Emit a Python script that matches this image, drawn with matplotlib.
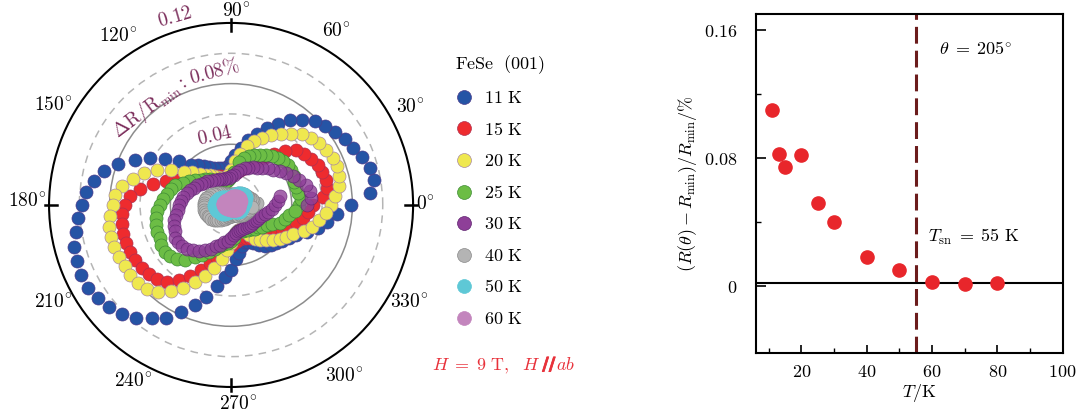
import numpy as np
import matplotlib
matplotlib.use("Agg")
import matplotlib.pyplot as plt
import matplotlib.patheffects as pe
from matplotlib.lines import Line2D

plt.rcParams['mathtext.fontset'] = 'cm'
plt.rcParams['font.family'] = ['DejaVu Serif']

# ---------------- data: polar plot (angle in degrees, dR/Rmin in %) ----------------
angles_deg = np.arange(0, 360, 5)

labels_T = ['11 K', '15 K', '20 K', '25 K', '30 K', '40 K', '50 K', '60 K']
colors_T = ['#2554a5', '#ee2b2e', '#efe84f', '#6cbd45', '#8e3f98', '#b4b4b4', '#5ec8d6', '#c385bd']
edges_T = ['#4b3c8c', '#b0304f', '#a98aa0', '#3f8c35', '#5e2270', '#8a8a8a', '#5ec8d6', '#c385bd']

r_11K = [0.079, 0.092, 0.096, 0.095, 0.092, 0.089, 0.087, 0.084, 0.081, 0.078, 0.073, 0.068,
         0.062, 0.056, 0.050, 0.044, 0.038, 0.033, 0.029, 0.026, 0.025, 0.025, 0.026, 0.027,
         0.029, 0.031, 0.034, 0.037, 0.045, 0.053, 0.062, 0.070, 0.079, 0.087, 0.092, 0.096,
         0.098, 0.101, 0.104, 0.107, 0.108, 0.109, 0.109, 0.107, 0.105, 0.102, 0.097, 0.091,
         0.086, 0.078, 0.070, 0.063, 0.054, 0.048, 0.043, 0.036, 0.032, 0.028, 0.026, 0.027,
         0.029, 0.032, 0.035, 0.037, 0.039, 0.041, 0.044, 0.047, 0.053, 0.059, 0.064, 0.070]
r_15K = [0.054, 0.061, 0.064, 0.0645, 0.064, 0.063, 0.061, 0.059, 0.056, 0.050, 0.044, 0.038,
         0.033, 0.029, 0.026, 0.024, 0.022, 0.021, 0.020, 0.019, 0.019, 0.019, 0.020, 0.021,
         0.022, 0.023, 0.025, 0.027, 0.029, 0.031, 0.034, 0.039, 0.046, 0.053, 0.061, 0.067,
         0.070, 0.072, 0.073, 0.074, 0.074, 0.0735, 0.073, 0.072, 0.071, 0.069, 0.066, 0.060,
         0.054, 0.047, 0.041, 0.036, 0.032, 0.029, 0.027, 0.025, 0.024, 0.023, 0.023, 0.024,
         0.025, 0.026, 0.027, 0.028, 0.029, 0.032, 0.035, 0.037, 0.040, 0.044, 0.048, 0.051]
r_20K = [0.066, 0.069, 0.072, 0.074, 0.0745, 0.074, 0.0725, 0.071, 0.069, 0.066, 0.061, 0.057,
         0.053, 0.049, 0.045, 0.040, 0.034, 0.029, 0.023, 0.020, 0.018, 0.018, 0.019, 0.020,
         0.022, 0.024, 0.026, 0.029, 0.034, 0.038, 0.046, 0.054, 0.061, 0.067, 0.073, 0.0765,
         0.078, 0.080, 0.082, 0.082, 0.082, 0.0815, 0.081, 0.081, 0.0805, 0.078, 0.075, 0.069,
         0.063, 0.056, 0.050, 0.043, 0.036, 0.030, 0.025, 0.021, 0.018, 0.017, 0.017, 0.019,
         0.023, 0.027, 0.030, 0.033, 0.036, 0.039, 0.042, 0.045, 0.051, 0.055, 0.059, 0.0625]
r_25K = [0.045, 0.046, 0.0445, 0.0445, 0.0445, 0.0455, 0.0455, 0.0455, 0.045, 0.044, 0.042, 0.040,
         0.038, 0.036, 0.034, 0.032, 0.029, 0.022, 0.019, 0.017, 0.016, 0.016, 0.017, 0.018,
         0.019, 0.020, 0.022, 0.024, 0.026, 0.029, 0.032, 0.035, 0.039, 0.041, 0.043, 0.045,
         0.047, 0.049, 0.050, 0.051, 0.052, 0.052, 0.053, 0.0535, 0.0525, 0.050, 0.047, 0.042,
         0.038, 0.034, 0.031, 0.028, 0.026, 0.025, 0.024, 0.022, 0.019, 0.018, 0.018, 0.019,
         0.019, 0.020, 0.021, 0.022, 0.023, 0.025, 0.027, 0.030, 0.034, 0.037, 0.039, 0.042]
r_30K = [0.050, 0.053, 0.053, 0.051, 0.048, 0.045, 0.042, 0.039, 0.036, 0.034, 0.032, 0.030,
         0.029, 0.027, 0.026, 0.024, 0.022, 0.020, 0.019, 0.018, 0.018, 0.018, 0.0185, 0.019,
         0.019, 0.020, 0.021, 0.022, 0.023, 0.024, 0.026, 0.027, 0.029, 0.030, 0.032, 0.033,
         0.034, 0.035, 0.037, 0.039, 0.040, 0.041, 0.043, 0.043, 0.042, 0.041, 0.039, 0.037,
         0.034, 0.032, 0.029, 0.027, 0.025, 0.024, 0.022, 0.020, 0.019, 0.018, 0.0175, 0.0175,
         0.0175, 0.018, 0.018, 0.0185, 0.019, 0.019, 0.020, 0.020, 0.021, 0.023, 0.025, 0.027]
# end of the 30 K sweep runs past 360 deg
tail30_angles = [360, 365, 370]
tail30_r = [0.029, 0.031, 0.033]
r_40K = [0.015, 0.017, 0.015, 0.014, 0.013, 0.012, 0.012, 0.011, 0.011, 0.010, 0.010, 0.009,
         0.009, 0.008, 0.008, 0.0075, 0.007, 0.007, 0.007, 0.007, 0.007, 0.007, 0.0075, 0.008,
         0.0085, 0.009, 0.010, 0.011, 0.012, 0.013, 0.014, 0.015, 0.016, 0.017, 0.0175, 0.018,
         0.018, 0.018, 0.018, 0.018, 0.0175, 0.017, 0.0165, 0.016, 0.015, 0.014, 0.013, 0.012,
         0.011, 0.010, 0.009, 0.0085, 0.008, 0.0075, 0.007, 0.007, 0.007, 0.007, 0.007, 0.0075,
         0.008, 0.0085, 0.009, 0.0095, 0.010, 0.0105, 0.011, 0.0115, 0.012, 0.0125, 0.013, 0.014]
r_50K = [0.008, 0.0085, 0.009, 0.0095, 0.010, 0.0105, 0.011, 0.011, 0.011, 0.0105, 0.010, 0.0095,
         0.009, 0.008, 0.0075, 0.007, 0.0065, 0.006, 0.0055, 0.005, 0.005, 0.005, 0.005, 0.0055,
         0.006, 0.0065, 0.007, 0.0075, 0.008, 0.0085, 0.009, 0.0095, 0.010, 0.010, 0.0105, 0.0105,
         0.011, 0.011, 0.011, 0.0105, 0.0105, 0.010, 0.0095, 0.009, 0.0085, 0.008, 0.0075, 0.007,
         0.0065, 0.006, 0.0055, 0.005, 0.0045, 0.0045, 0.004, 0.004, 0.004, 0.004, 0.0045, 0.0045,
         0.005, 0.0055, 0.006, 0.0065, 0.007, 0.0072, 0.0075, 0.0075, 0.0078, 0.0078, 0.008, 0.008]
r_60K = [0.0055, 0.0058, 0.006, 0.0063, 0.0066, 0.0069, 0.007, 0.0072, 0.0073, 0.0073, 0.0072, 0.007,
         0.0068, 0.0065, 0.0062, 0.006, 0.0057, 0.0054, 0.0051, 0.0048, 0.0045, 0.0043, 0.0041, 0.004,
         0.004, 0.004, 0.0041, 0.0043, 0.0045, 0.0047, 0.0048, 0.005, 0.0051, 0.0052, 0.0052, 0.0052,
         0.0051, 0.005, 0.0048, 0.0046, 0.0044, 0.0042, 0.004, 0.0038, 0.0036, 0.0034, 0.0033, 0.0032,
         0.0031, 0.003, 0.003, 0.003, 0.003, 0.003, 0.0031, 0.0032, 0.0033, 0.0035, 0.0037, 0.0039,
         0.0041, 0.0043, 0.0045, 0.0047, 0.0049, 0.005, 0.0051, 0.0052, 0.0053, 0.0054, 0.0054, 0.0055]

# angular tick labels
theta_labels = [0, 30, 60, 90, 120, 150, 180, 210, 240, 270, 300, 330]

# ---------------- data: right panel ----------------
T_K = [11, 13, 15, 20, 25, 30, 40, 50, 60, 70, 80]
dR_205 = [0.110, 0.0826, 0.0742, 0.082, 0.0516, 0.0401, 0.018, 0.0102, 0.0027, 0.0013, 0.0019]
T_sn = 55

maroon = '#7b2d5b'
hred = '#e8313a'
FS = 13

fig = plt.figure(figsize=(10.78, 4.17), dpi=100)

# ================= polar panel =================
axp = fig.add_axes([0.0455, 0.072, 0.3377, 0.873], projection='polar')
axp.set_ylim(0, 0.12)
rt = [0.02, 0.04, 0.06, 0.08, 0.10]
axp.set_rticks(rt)
axp.set_yticklabels([])
axp.xaxis.grid(False)
axp.yaxis.grid(True)
for i, tk in enumerate(axp.yaxis.get_major_ticks()):
    gl = tk.gridline
    if i % 2 == 0:
        gl.set_linestyle((0, (5, 4)))
        gl.set_color('#b5b5b5')
        gl.set_linewidth(1.1)
    else:
        gl.set_linestyle('-')
        gl.set_color('#8c8c8c')
        gl.set_linewidth(1.1)
axp.tick_params(axis='y', length=0)
axp.spines['polar'].set_linewidth(1.5)

axp.set_xticks(np.deg2rad(theta_labels))
axp.set_xticklabels([])
axp.set_xticks(np.deg2rad(np.arange(15, 360, 30)), minor=True)
axp.tick_params(axis='x', which='both', direction='in', length=4, width=1.0)
for a in [0, 90, 180, 270]:
    axp.plot([np.deg2rad(a)] * 2, [0.1145, 0.1225], color='k', lw=1.8, clip_on=False, zorder=5)

# label placement (angle of label centre, radius of label centre)
label_pos = {0: (0, 0.1279), 30: (28.5, 0.1345), 60: (58.8, 0.1338), 90: (88.5, 0.1276),
             120: (124, 0.1338), 150: (151, 0.1345), 180: (179, 0.1348), 210: (208.6, 0.1338),
             240: (241, 0.1332), 270: (271.9, 0.1319), 300: (303.4, 0.1352), 330: (331.4, 0.1338)}
for a in theta_labels:
    ang, rr = label_pos[a]
    axp.text(np.deg2rad(ang), rr, r'$%d^{\circ}$' % a, fontsize=14, ha='center', va='center',
             clip_on=False)

series = [r_11K, r_15K, r_20K, r_25K, r_30K, r_40K, r_50K, r_60K]
th = np.deg2rad(angles_deg)
MS = 88
for k, (rv, col, ec) in enumerate(zip(series, colors_T, edges_T)):
    alpha = 0.8 if k == 4 else 1.0
    axp.scatter(th, rv, s=MS, c=col, edgecolors=ec, linewidths=0.5, alpha=alpha, zorder=3 + k * 0.01)
    if k == 4:
        axp.scatter(np.deg2rad(tail30_angles), tail30_r, s=MS, c=col, edgecolors=ec,
                    linewidths=0.5, alpha=alpha, zorder=3 + k * 0.01)

axp.text(np.deg2rad(106.6), 0.129, '$0.12$', color=maroon, fontsize=14, rotation=16,
         rotation_mode='anchor', ha='center', va='center', clip_on=False)
axp.text(np.deg2rad(103), 0.0467, '$0.04$', color=maroon, fontsize=14, rotation=13,
         rotation_mode='anchor', ha='center', va='center', zorder=6)
axp.text(np.deg2rad(130), 0.0838, r'$\Delta\mathrm{R}/\mathrm{R}_{\mathrm{min}}:$', color=maroon,
         fontsize=14, rotation=37, rotation_mode='anchor', ha='center', va='center', zorder=6)
axp.text(np.deg2rad(97.2), 0.0888, r'$0.08\%$', color=maroon,
         fontsize=14, rotation=15, rotation_mode='anchor', ha='center', va='center', zorder=6)

# legend
handles = [Line2D([], [], ls='none', marker='o', ms=10, mfc=c, mec=e, mew=0.5)
           for c, e in zip(colors_T, edges_T)]
leg = fig.legend(handles, [r'$\mathrm{%s}$' % l.replace(' ', r'\ ') for l in labels_T],
                 loc='upper left', bbox_to_anchor=(0.407, 0.912), frameon=False,
                 fontsize=FS, handlelength=1.0, handletextpad=0.6, labelspacing=0.75,
                 title=r'$\mathrm{FeSe}\ \ \mathrm{(001)}$', title_fontsize=FS, alignment='left')

# field annotation, built from three pieces so that "//" can be heavy
W, H = fig.get_size_inches() * fig.dpi
renderer = fig.canvas.get_renderer()
yb = 1 - 370 / 417
t1 = fig.text(432 / W, yb, r'$H\;=\;9\ \mathrm{T},\ \ H$', color=hred, fontsize=FS,
              ha='left', va='baseline')
x1 = t1.get_window_extent(renderer).x1
t2 = fig.text((x1 + 2) / W, yb, '//', color=hred, fontsize=FS, ha='left', va='baseline',
              family='DejaVu Sans', fontweight='bold',
              path_effects=[pe.withStroke(linewidth=0.5, foreground=hred)])
x2 = t2.get_window_extent(renderer).x1
fig.text((x2 + 1) / W, yb, r'$ab$', color=hred, fontsize=FS, ha='left', va='baseline')

# ================= right panel =================
ax2 = fig.add_axes([0.701, 0.1528, 0.2848, 0.8137])
ax2.set_xlim(6, 100)
ax2.set_ylim(-0.042, 0.17)
ax2.axhline(0.002, color='k', lw=1.5, zorder=1)
ax2.axvline(T_sn, color='#6b1c1c', lw=2.2, dashes=(5.5, 2.3), zorder=2)
ax2.plot(T_K, dR_205, ls='none', marker='o', ms=9.5, color='#e8262b', mec='#e8262b', zorder=3)
ax2.set_xticks([20, 40, 60, 80, 100])
ax2.set_xticklabels([r'$20$', r'$40$', r'$60$', r'$80$', r'$100$'], fontsize=FS)
ax2.set_xticks([10, 30, 50, 70, 90], minor=True)
ax2.set_yticks([0, 0.08, 0.16])
ax2.set_yticklabels([r'$0$', r'$0.08$', r'$0.16$'], fontsize=FS)
ax2.set_yticks([0.04, 0.12], minor=True)
ax2.tick_params(axis='x', which='major', direction='in', length=6, width=1.2, pad=7)
ax2.tick_params(axis='x', which='minor', direction='in', length=3.5, width=1.0)
ax2.tick_params(axis='y', which='major', direction='in', length=7.5, width=1.2, pad=13)
ax2.tick_params(axis='y', which='minor', direction='in', length=3.5, width=1.0)
for sp in ax2.spines.values():
    sp.set_linewidth(1.5)
ax2.set_ylabel(r'$(R(\theta)-R_{\rm min})/R_{\rm min}/\%$', fontsize=FS, va='center')
ax2.yaxis.set_label_coords(-0.2205, 0.5)
ax2.set_xlabel(r'$T/\mathrm{K}$', fontsize=FS, va='center')
ax2.xaxis.set_label_coords(0.532, -0.117)
ax2.text(73.3, 0.148, r'$\theta\;=\;205^{\circ}$', fontsize=FS, ha='center', va='center')
ax2.text(58.7, 0.0307, r'$T_{\rm sn}\;=\;55\ \mathrm{K}$', fontsize=FS, ha='left', va='center')

fig.savefig('out.png', dpi=100)
